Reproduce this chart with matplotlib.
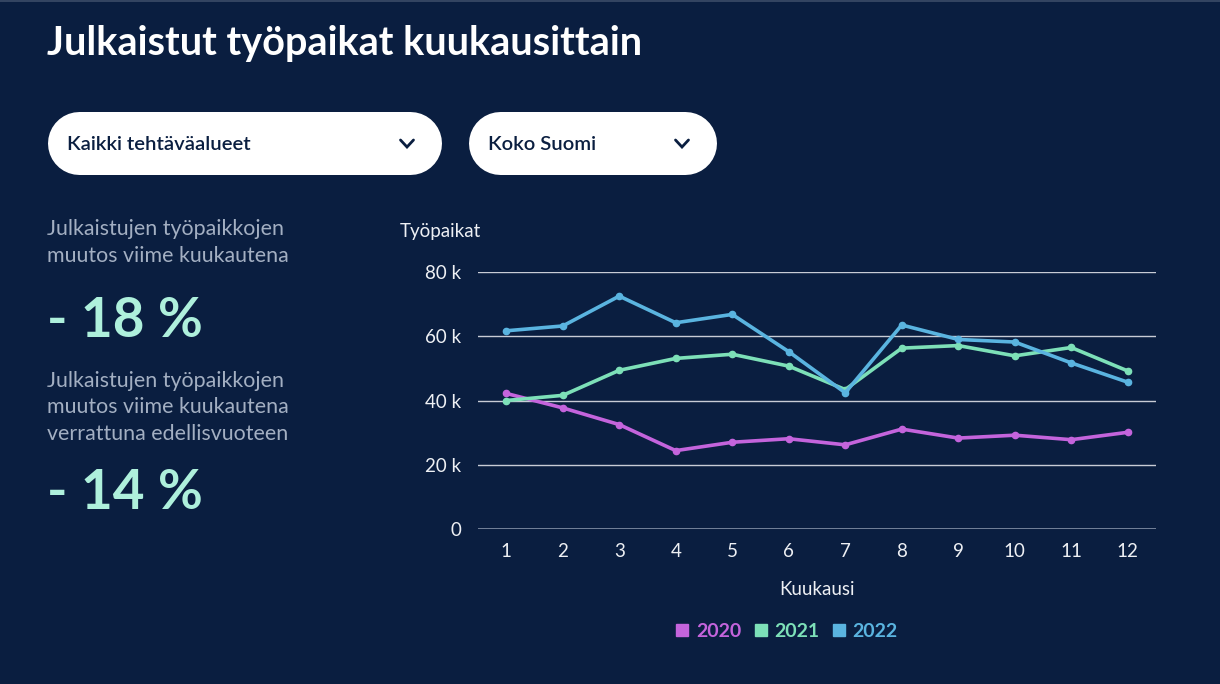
import numpy as np
import matplotlib.pyplot as plt
from matplotlib.lines import Line2D

plt.rcParams['font.family'] = ['Lato', 'DejaVu Sans']

# data (thousands of postings per month)
months = np.arange(1, 13)
years = ['2020', '2021', '2022']
v2020 = [42.2, 37.7, 32.5, 24.4, 27.0, 28.1, 26.2, 31.1, 28.3, 29.2, 27.8, 30.1]
v2021 = [40.0, 41.6, 49.4, 53.1, 54.4, 50.7, 43.4, 56.3, 57.1, 53.9, 56.5, 49.2]
v2022 = [61.7, 63.2, 72.5, 64.2, 66.8, 55.2, 42.4, 63.5, 59.0, 58.2, 51.7, 45.7]
yticks = [0, 20, 40, 60, 80]
ytick_labels = ['0', '20 k', '40 k', '60 k', '80 k']

bg = '#0a1e40'
cols = ['#c464dc', '#7de0b8', '#5ab4e0']
mint = '#aef0dc'
grey_txt = '#a3afc2'
tick_col = '#eef0f4'

fig = plt.figure(figsize=(12.2, 6.84), dpi=100, facecolor=bg)

# overlay in pixel coords for the page furniture
ov = fig.add_axes([0, 0, 1, 1], zorder=0)
ov.set_xlim(0, 1220)
ov.set_ylim(684, 0)
ov.axis('off')
ov.patch.set_alpha(0)

ov.plot([0, 1220], [0.5, 0.5], color='#3c4c68', lw=1.2)

ov.text(47, 44, 'Julkaistut työpaikat kuukausittain', color='white',
        fontsize=28.5, fontweight='bold', va='center', ha='left')

# dropdown pills (thick round-capped line = pill shape)
pill_lw = 63 * 72 / 100
for x0, x1, label in [(47, 441, 'Kaikki tehtäväalueet'), (468, 716, 'Koko Suomi')]:
    ov.plot([x0 + 31.5, x1 - 31.5], [142.5, 142.5], color='white', lw=pill_lw,
            solid_capstyle='round')
    ov.text(x0 + 20, 144, label, color=bg, fontsize=14.6, fontweight='semibold',
            va='center', ha='left')
    cx = x1 - 34
    ov.plot([cx - 6.5, cx, cx + 6.5], [140, 147, 140], color=bg, lw=2,
            solid_capstyle='round', solid_joinstyle='miter')

# left hand key figures
ov.text(47, 262, 'Julkaistujen työpaikkojen\nmuutos viime kuukautena', color=grey_txt,
        fontsize=15.4, va='baseline', ha='left', linespacing=1.42)
ov.text(47, 337, '- 18 %', color=mint, fontsize=39.5, fontweight='bold',
        va='baseline', ha='left')
ov.text(47, 440, 'Julkaistujen työpaikkojen\nmuutos viime kuukautena\nverrattuna edellisvuoteen',
        color=grey_txt, fontsize=15.4, va='baseline', ha='left', linespacing=1.42)
ov.text(47, 509, '- 14 %', color=mint, fontsize=39.5, fontweight='bold',
        va='baseline', ha='left')

# the chart itself
ax = fig.add_axes([478 / 1220, 1 - 529 / 684, (1156 - 478) / 1220, (529 - 272) / 684], zorder=2)
ax.set_facecolor('none')
for vals, c, yr in zip([v2020, v2021, v2022], cols, years):
    ax.plot(months, vals, color=c, lw=2.6, marker='o', ms=4.5, label=yr,
            clip_on=False, zorder=3)

ax.set_xlim(0.5, 12.5)
ax.set_ylim(0, 80)
ax.set_yticks(yticks)
ax.set_yticklabels(ytick_labels)
ax.set_xticks(months)
for s in ax.spines.values():
    s.set_visible(False)
for t in yticks[1:]:
    ax.axhline(t, color='#c8ccd6', lw=1, zorder=1)
ax.axhline(0, color='#8592a8', lw=1.2, zorder=1)
ax.tick_params(axis='both', length=0, colors=tick_col, labelsize=13.5)
ax.tick_params(axis='y', pad=12)
ax.tick_params(axis='x', pad=10)
ax.set_xlabel('Kuukausi', color=tick_col, fontsize=13.5, labelpad=15)
ax.text(-0.115, 1.158, 'Työpaikat', transform=ax.transAxes, color=tick_col,
        fontsize=13.5, ha='left', va='center')

handles = [Line2D([], [], ls='none', marker='s', ms=8, color=c) for c in cols]
leg = ax.legend(handles, years, loc='center', bbox_to_anchor=(0.456, -0.4), ncol=3,
                frameon=False, handlelength=0.6, handletextpad=0.4, columnspacing=0.7,
                prop={'weight': 'bold', 'size': 14}, labelcolor=cols)

fig.savefig('out.png', dpi=100, facecolor=bg)
